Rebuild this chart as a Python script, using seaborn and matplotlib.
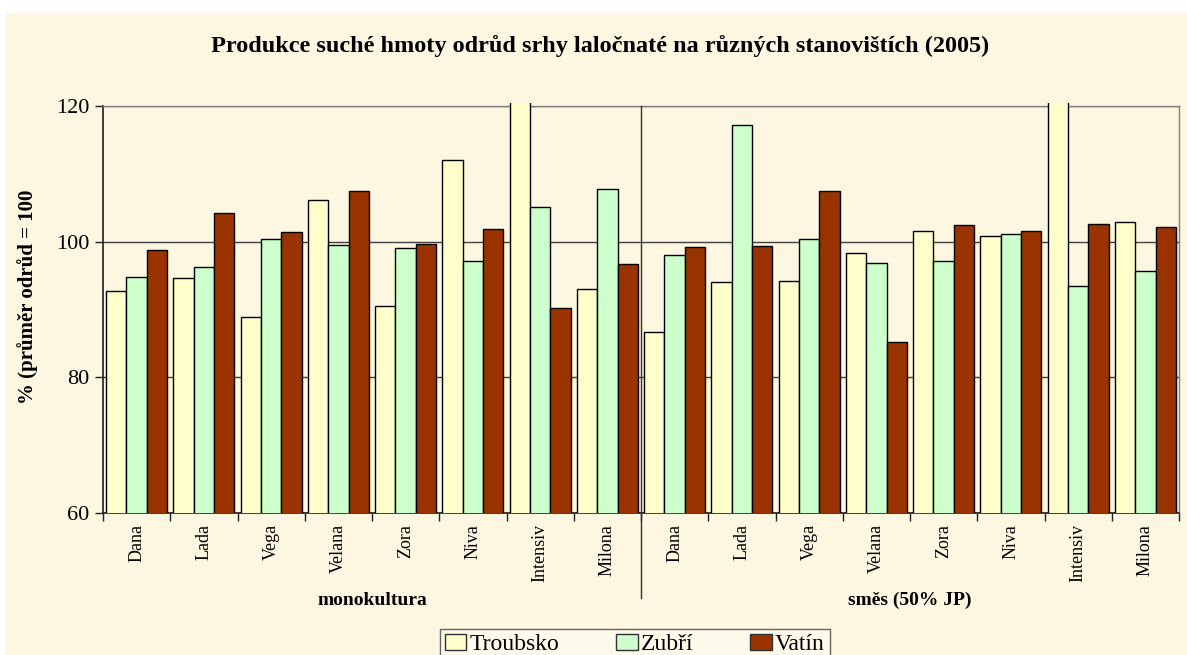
import pandas as pd
import matplotlib
matplotlib.use('Agg')
import matplotlib.pyplot as plt
import matplotlib.patches as mpatches
import seaborn as sns

# Hodnoty (% průměru odrůd)
odrudy = ['Dana', 'Lada', 'Vega', 'Velana', 'Zora', 'Niva', 'Intensiv', 'Milona']
skupiny = ['monokultura', 'směs (50% JP)']
stanoviste = ['Troubsko', 'Zubří', 'Vatín']

troubsko = [92.7, 94.6, 88.9, 106.2, 90.5, 112.0, 125.0, 93.0,
            86.7, 94.1, 94.2, 98.3, 101.5, 100.9, 125.0, 102.9]
zubri = [94.8, 96.3, 100.35, 99.5, 99.0, 97.1, 105.1, 107.7,
         98.1, 117.2, 100.4, 96.9, 97.1, 101.1, 93.4, 95.7]
vatin = [98.7, 104.2, 101.4, 107.4, 99.7, 101.8, 90.2, 96.7,
         99.2, 99.3, 107.5, 85.2, 102.4, 101.5, 102.65, 102.1]

barvy = ['#FFFFCC', '#CCFFCC', '#993300']
pozadi = '#FDF6E0'

# Tabulka v dlouhém formátu
klice = [f'{o}|{s}' for s in skupiny for o in odrudy]
rows = []
for nazev, hodnoty in zip(stanoviste, [troubsko, zubri, vatin]):
    for k, v in zip(klice, hodnoty):
        rows.append({'kat': k, 'stanoviste': nazev, 'hodnota': v})
df = pd.DataFrame(rows)

plt.rcParams['font.family'] = ['Liberation Serif', 'DejaVu Serif']

fig = plt.figure(figsize=(11.87, 6.55), dpi=100, facecolor='white')
fig.patches.append(mpatches.Rectangle((6 / 1187, 0), 1, 1 - 13 / 655, transform=fig.transFigure,
                                      facecolor=pozadi, edgecolor='none', zorder=-10))
ax = fig.add_axes([103 / 1187, 1 - 513 / 655, 1076 / 1187, 407 / 655])
ax.set_facecolor('none')

sns.barplot(data=df, x='kat', y='hodnota', hue='stanoviste', order=klice,
            hue_order=stanoviste, palette=barvy, saturation=1, edgecolor='black',
            linewidth=1, width=0.91, gap=0, dodge=True, ax=ax, legend=False, zorder=3)

# přesahující sloupce oříznout kousek nad horním okrajem (jako v Excelu)
orez = mpatches.Rectangle((0, 0), 1, 1.008, transform=ax.transAxes, facecolor='none', edgecolor='none')
ax.add_patch(orez)
for p in ax.patches:
    if p is not orez:
        p.set_clip_path(orez)

ax.set_ylim(60, 120)
ax.set_xlim(-0.5, len(klice) - 0.5)
ax.set_yticks([60, 80, 100, 120])
ax.yaxis.grid(True, color='#404040', linewidth=1)
ax.set_axisbelow(True)

ax.set_xticks(range(len(klice)))
ax.set_xticklabels(odrudy * 2, rotation=90, fontsize=13)
ax.set_xticks([i - 0.5 for i in range(len(klice) + 1)], minor=True)
ax.tick_params(axis='x', which='major', length=0, pad=8)
ax.tick_params(axis='x', which='minor', length=6, width=1, color='#202020')
ax.tick_params(axis='y', length=6, width=1, color='#202020', labelsize=16, pad=4)
ax.set_xlabel('')
ax.set_ylabel('')

for side in ['left', 'bottom']:
    ax.spines[side].set_color('#202020')
    ax.spines[side].set_linewidth(1.2)
for side in ['top', 'right']:
    ax.spines[side].set_color('#808080')
    ax.spines[side].set_linewidth(1)

# oddělovač skupin
tr = ax.get_xaxis_transform()
ax.plot([7.5, 7.5], [1, -0.209], transform=tr, color='#303030', linewidth=1, clip_on=False, zorder=4)
ax.text(3.5, -0.215, skupiny[0], transform=tr, ha='center', va='center', fontsize=14, fontweight='bold')
ax.text(11.5, -0.215, skupiny[1], transform=tr, ha='center', va='center', fontsize=14, fontweight='bold')

fig.text(600 / 1187, 1 - 46 / 655, 'Produkce suché hmoty odrůd srhy laločnaté na různých stanovištích (2005)',
         ha='center', va='center', fontsize=17.5, fontweight='bold')
fig.text(28 / 1187, 1 - 297 / 655, '% (průměr odrůd = 100', rotation=90,
         ha='center', va='center', fontsize=15, fontweight='bold')

handles = [mpatches.Patch(facecolor=c, edgecolor='#303030', label=s) for c, s in zip(barvy, stanoviste)]
leg = fig.legend(handles=handles, loc='upper center', bbox_to_anchor=(635 / 1187, 1 - 617 / 655),
                 ncol=3, fontsize=17, frameon=True, fancybox=False, handlelength=0.9,
                 handleheight=0.7, handletextpad=0.15, columnspacing=2.4, borderpad=0.2)
leg.get_frame().set_edgecolor('#404040')
leg.get_frame().set_facecolor('#FFFCEE')
leg.get_frame().set_linewidth(1)

fig.savefig('out.png', dpi=100, facecolor=fig.get_facecolor())
